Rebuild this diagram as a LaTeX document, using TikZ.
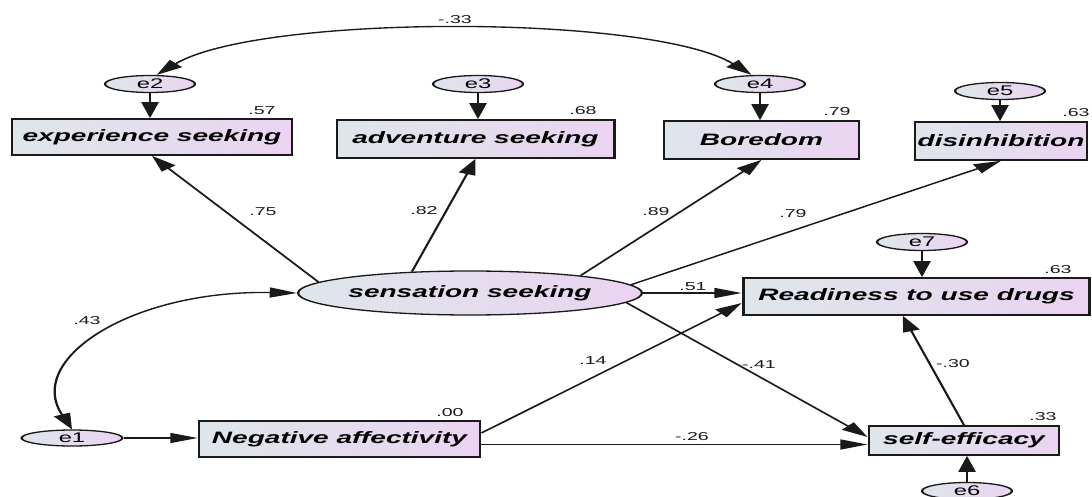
\documentclass[tikz,border=0pt]{standalone}
\usepackage{fontspec}
\setmainfont{Liberation Sans}
\usetikzlibrary{arrows.meta,shapes.geometric,calc}
\definecolor{gl}{HTML}{DEE6EB}
\definecolor{gr}{HTML}{EBD3F1}
\definecolor{ln}{HTML}{1A1A1A}
\tikzset{
  obsv/.style={draw=ln, line width=1.7pt, rectangle, left color=gl, right color=gr, inner sep=0pt,
    font=\fontsize{16.5}{18}\selectfont\bfseries\itshape},
  latv/.style={draw=ln, line width=1.3pt, ellipse, left color=gl, right color=gr, inner sep=0pt,
    font=\fontsize{16.5}{18}\selectfont\bfseries\itshape},
  errv/.style={draw=ln, line width=1.3pt, ellipse, left color=gl, right color=gr, inner sep=0pt,
    minimum width=53pt, minimum height=17pt, font=\fontsize{14}{15}\selectfont},
  lab/.style={font=\fontsize{11.5}{13}\selectfont, inner sep=0pt, text=ln},
  arr/.style={draw=ln, line width=1.35pt, -{Triangle[length=16pt,width=10pt]}},
  cov/.style={draw=ln, line width=1.35pt, {Triangle[length=16pt,width=10pt]}-{Triangle[length=16pt,width=10pt]}},
}
\begin{document}
\begin{tikzpicture}[x=1pt,y=-1pt]
\begin{scope}[transform canvas={xscale=1.7}, x=0.5882353pt, y=-1pt]
  % observed variables
  \node[obsv, minimum width=164.7pt, minimum height=36pt] (exp) at (152,137) {experience seeking};
  \node[obsv, minimum width=163pt, minimum height=38pt] (adv) at (475.5,139) {adventure seeking};
  \node[obsv, minimum width=114.7pt, minimum height=38pt] (bor) at (761.5,140) {Boredom};
  \node[obsv, minimum width=101.2pt, minimum height=38pt] (dis) at (1001,141) {disinhibition};
  \node[obsv, minimum width=204pt, minimum height=37pt] (rdy) at (916.5,296.5) {Readiness to use drugs};
  \node[obsv, minimum width=165.3pt, minimum height=36pt] (neg) at (339.5,439) {Negative affectivity};
  \node[obsv, minimum width=111.8pt, minimum height=29pt] (sef) at (964,440.5) {self-efficacy};
  % latent
  \node[latv, minimum width=174pt, minimum height=44pt] (ss) at (470,293) {sensation seeking};
  % errors
  \node[errv] (e2) at (150,84) {e2};
  \node[errv] (e3) at (478,84) {e3};
  \node[errv] (e4) at (760,84) {e4};
  \node[errv] (e5) at (1000,91) {e5};
  \node[errv] (e7) at (922,242) {e7};
  \node[errv, minimum width=59.4pt, minimum height=16pt] (e1) at (72,438) {e1};
  \node[errv] (e6) at (967,491) {e6};
  % error arrows
  \draw[arr] (e2.south) -- (e2.south |- exp.north);
  \draw[arr] (e3.south) -- (e3.south |- adv.north);
  \draw[arr] (e4.south) -- (e4.south |- bor.north);
  \draw[arr] (e5.south) -- (e5.south |- dis.north);
  \draw[arr] (e7.south) -- (e7.south |- rdy.north);
  \draw[arr] (e6.north) -- (e6.north |- sef.south);
  \draw[arr] (e1.east) -- (e1.east -| neg.west);
  % structural paths
  \draw[arr] (ss.173) -- (exp.south);
  \draw[arr] (ss.148) -- (adv.south);
  \draw[arr] (ss.15) -- (bor.south);
  \draw[arr] (ss.5) -- (dis.south);
  \draw[arr] (ss.east) -- (ss.east -| rdy.west);
  \draw[arr] (ss.-6) -- ([yshift=3.5pt]sef.west);
  \draw[arr] ([yshift=6pt]neg.east) -- ([yshift=-6.5pt]rdy.west);
  \draw[arr] ([yshift=-5.5pt]neg.east) -- ([yshift=-5.5pt]neg.east -| sef.west);
  \draw[arr] (sef.north) -- ([xshift=-8pt]rdy.south);
  % covariances
  \draw[cov] ([xshift=4pt]e2.north) .. controls (260,14) and (650,14) .. ([xshift=-5pt]e4.north);
  \draw[cov] (e1.north) .. controls (25,360) and (130,290) .. (ss.west);
  % labels
  \node[lab] (l33) at (455,20) {-.33};
  \node[lab] (r57) at (262,111) {.57};
  \node[lab] (r68) at (583,111) {.68};
  \node[lab] (r79) at (837,112) {.79};
  \node[lab] (r63a) at (1076,113) {.63};
  \node[lab] (l75) at (263,212) {.75};
  \node[lab] (l82) at (424,211) {.82};
  \node[lab] (l89) at (656,212) {.89};
  \node[lab] (l79) at (793,214) {.79};
  \node[lab] (r63b) at (1058,270) {.63};
  \node[lab] (l51) at (693,287) {.51};
  \node[lab] (l43) at (87,321) {.43};
  \node[lab] (l14) at (593,361) {.14};
  \node[lab] (l41) at (759,365) {-.41};
  \node[lab] (l30) at (953,364) {-.30};
  \node[lab] (r00) at (450,413) {.00};
  \node[lab] (l26) at (692,437) {-.26};
  \node[lab] (r33) at (1043,417) {.33};
\end{scope}
\pgfresetboundingbox
\useasboundingbox (0,0) rectangle (1092,497);
\end{tikzpicture}
\end{document}
